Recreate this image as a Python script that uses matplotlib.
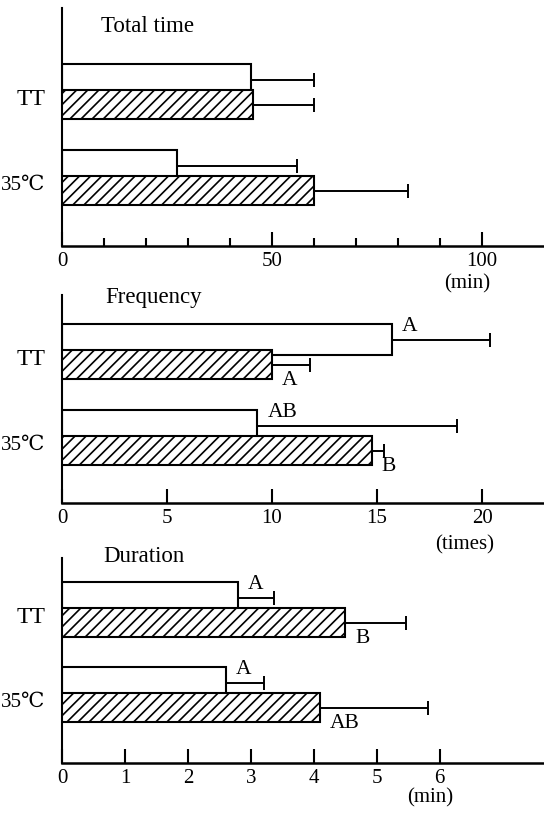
import matplotlib
matplotlib.use("Agg")
import matplotlib.pyplot as plt
from matplotlib.ticker import FixedLocator

# ---------------- data ----------------
groups = ["TT", "35℃"]

total_open = [45, 27.3]
total_open_err = [15, 28.7]
total_hatch = [45.5, 60]
total_hatch_err = [14.5, 22.4]

freq_open = [15.7, 9.3]
freq_open_err = [4.7, 9.5]
freq_hatch = [10, 14.75]
freq_hatch_err = [1.8, 0.6]
freq_open_letters = ["A", "AB"]
freq_hatch_letters = ["A", "B"]

dur_open = [2.8, 2.6]
dur_open_err = [0.57, 0.61]
dur_hatch = [4.5, 4.1]
dur_hatch_err = [0.97, 1.72]
dur_open_letters = ["A", "A"]
dur_hatch_letters = ["B", "AB"]

titles = ["Total time", "Frequency", "Duration"]
units = ["(min)", "(times)", "(min)"]
tick_vals = [[0, 50, 100], [0, 5, 10, 15, 20], [0, 1, 2, 3, 4, 5, 6]]
minor_vals = [[10, 20, 30, 40, 60, 70, 80, 90], [], []]

# ---------------- layout (pixels) ----------------
W, H = 544, 814
FONT = ["Liberation Serif", "DejaVu Serif", "Noto Sans CJK JP"]
plt.rcParams["font.family"] = FONT
plt.rcParams["hatch.linewidth"] = 1.2

fig = plt.figure(figsize=(W / 100, H / 100), dpi=100)

panels = [
    dict(top=8, bot=246, xmax=114.8, labels=[97, 183], unit_xy=(467, 284), title_xy=(101, 27)),
    dict(top=295, bot=503, xmax=22.95, labels=[357, 443], unit_xy=(465, 545), title_xy=(105, 298)),
    dict(top=558, bot=763, xmax=7.66, labels=[615, 700], unit_xy=(430, 798), title_xy=(103, 557)),
]
left_px = 62

data = [
    (total_open, total_open_err, total_hatch, total_hatch_err, None, None),
    (freq_open, freq_open_err, freq_hatch, freq_hatch_err, freq_open_letters, freq_hatch_letters),
    (dur_open, dur_open_err, dur_hatch, dur_hatch_err, dur_open_letters, dur_hatch_letters),
]

for i, p in enumerate(panels):
    ax = fig.add_axes([left_px / W, 1 - p["bot"] / H, (W - left_px) / W, (p["bot"] - p["top"]) / H])
    ax.set_ylim(p["bot"], p["top"])
    ax.set_xlim(0, p["xmax"])
    o, oe, h, he, ol, hl = data[i]
    for j, c in enumerate(p["labels"]):
        oy0, oy1 = c - 33, c - 2
        hy0, hy1 = c - 7, c + 22
        ocy = (oy0 + oy1) / 2
        hcy = (hy0 + hy1) / 2
        ax.barh(ocy, o[j], height=oy1 - oy0, color="white", edgecolor="black",
                linewidth=1.5, zorder=2)
        ax.errorbar(o[j], ocy, xerr=[[0], [oe[j]]], fmt="none", ecolor="black",
                    elinewidth=1.4, capsize=5, capthick=1.4, zorder=1)
        ax.barh(hcy, h[j], height=hy1 - hy0, color="white", edgecolor="black",
                hatch="///", linewidth=1.5, zorder=3)
        ax.errorbar(h[j], hcy, xerr=[[0], [he[j]]], fmt="none", ecolor="black",
                    elinewidth=1.4, capsize=5, capthick=1.4, zorder=1)
        if ol is not None:
            ax.annotate(ol[j], (o[j], ocy), xytext=(10, 13), textcoords="offset pixels",
                        ha="left", va="center", fontsize=15.5, family=FONT)
            ax.annotate(hl[j], (h[j], hcy), xytext=(10, -16), textcoords="offset pixels",
                        ha="left", va="center", fontsize=15.5, family=FONT)

    for s in ["top", "right"]:
        ax.spines[s].set_visible(False)
    ax.spines["left"].set_linewidth(1.5)
    ax.spines["bottom"].set_linewidth(1.8)

    ax.set_yticks(p["labels"])
    ax.set_yticklabels(groups, family=FONT)
    for k, t in enumerate(ax.get_yticklabels()):
        t.set_fontsize(17 if k == 0 else 15)
    ax.tick_params(axis="y", length=0, pad=12)

    ax.xaxis.set_major_locator(FixedLocator(tick_vals[i]))
    ax.xaxis.set_minor_locator(FixedLocator(minor_vals[i]))
    ax.set_xticklabels([str(v) for v in tick_vals[i]], family=FONT)
    ax.tick_params(axis="x", which="major", direction="in", length=10, width=1.5,
                   labelsize=15, pad=4)
    ax.tick_params(axis="x", which="minor", direction="in", length=6, width=1.5)

    fig.text(p["title_xy"][0] / W, 1 - p["title_xy"][1] / H, titles[i],
             fontsize=16.5, ha="left", va="center", family=FONT)
    fig.text(p["unit_xy"][0] / W, 1 - p["unit_xy"][1] / H, units[i],
             fontsize=15, ha="center", va="center", family=FONT)

fig.savefig("out.png", dpi=100)
